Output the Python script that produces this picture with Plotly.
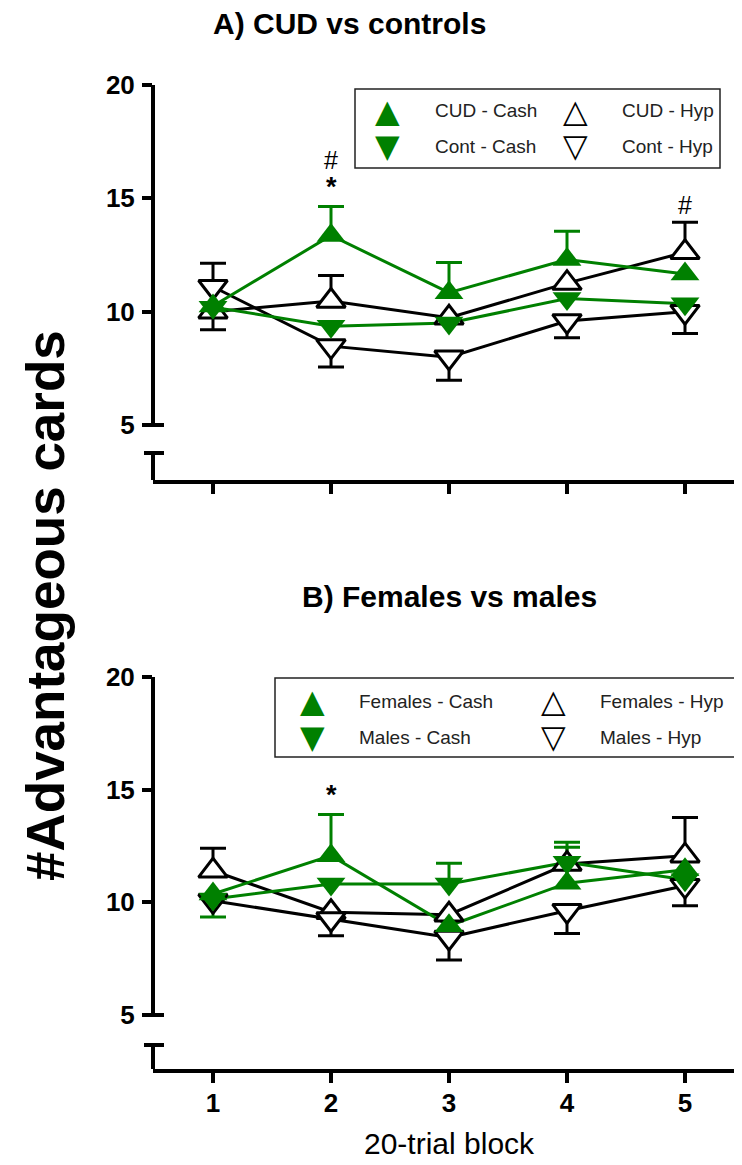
import plotly.graph_objects as go

# Reference frame is 742x1165; the page body has an 8px margin, so the
# figure is drawn 8px smaller and every layout pixel is shifted by 8.
REF_W, REF_H = 742, 1165
OFF = 8
W, H = REF_W - OFF, REF_H - OFF
FONT = "Liberation Sans, Arial, Helvetica, sans-serif"
GREEN = "#008000"
BLACK = "#000000"

# ---------------- data ----------------
BLOCKS = [1, 2, 3, 4, 5]
Y_TICKS = [5, 10, 15, 20]

# Panel A: CUD vs controls
A_CUD_CASH = [10.25, 13.36, 10.84, 12.30, 11.66]
A_CUD_CASH_UP = [None, 1.28, 1.33, 1.25, None]
A_CONT_CASH = [10.20, 9.36, 9.50, 10.58, 10.35]
A_CUD_HYP = [10.00, 10.47, 9.73, 11.26, 12.62]
A_CUD_HYP_UP = [2.14, 1.13, None, None, 1.33]
A_CONT_HYP = [11.10, 8.48, 7.99, 9.59, 10.00]
A_CONT_HYP_DOWN = [1.90, 0.92, 1.02, 0.74, 0.96]

# Panel B: Females vs males
B_F_CASH = [10.37, 12.07, 8.96, 10.85, 11.45]
B_F_CASH_UP = [None, 1.83, None, 1.82, None]
B_M_CASH = [10.15, 10.81, 10.81, 11.78, 11.00]
B_M_CASH_UP = [None, None, 0.92, 0.66, None]
B_M_CASH_DOWN = [0.80, None, None, None, None]
B_F_HYP = [11.40, 9.56, 9.45, 11.70, 12.07]
B_F_HYP_UP = [1.00, None, None, None, 1.70]
B_M_HYP = [10.07, 9.26, 8.44, 9.63, 10.74]
B_M_HYP_DOWN = [None, 0.74, 1.00, 1.01, 0.89]

A_SERIES = [
    dict(name="CUD - Cash", y=A_CUD_CASH, up=A_CUD_CASH_UP, down=None, cash=True, sym="up"),
    dict(name="Cont - Cash", y=A_CONT_CASH, up=None, down=None, cash=True, sym="down"),
    dict(name="CUD - Hyp", y=A_CUD_HYP, up=A_CUD_HYP_UP, down=None, cash=False, sym="up"),
    dict(name="Cont - Hyp", y=A_CONT_HYP, up=None, down=A_CONT_HYP_DOWN, cash=False, sym="down"),
]
B_SERIES = [
    dict(name="Females - Cash", y=B_F_CASH, up=B_F_CASH_UP, down=None, cash=True, sym="up"),
    dict(name="Males - Cash", y=B_M_CASH, up=B_M_CASH_UP, down=B_M_CASH_DOWN, cash=True, sym="down"),
    dict(name="Females - Hyp", y=B_F_HYP, up=B_F_HYP_UP, down=None, cash=False, sym="up"),
    dict(name="Males - Hyp", y=B_M_HYP, up=None, down=B_M_HYP_DOWN, cash=False, sym="down"),
]

# significance marks: (block, text, pixel offset above highest error bar)
A_SIG = [(2, "*", 19), (2, "#", 46), (5, "#", 17)]
B_SIG = [(2, "*", 19)]

# ---------------- layout geometry (reference pixels) ----------------
def px2x(px):
    return (px - OFF) / W

def py2y(py):
    return 1 - (py - OFF) / H

AXIS_X_PX = 153
X_RANGE = [1 - 60 / 118, 5 + 57 / 118]

PANELS = [
    dict(series=A_SERIES, sig=A_SIG, xa="x", ya="y", xkey="xaxis", ykey="yaxis",
         top=85, five=425, stub=453, base=480, labels=False,
         title="A) CUD vs controls", title_xy=(349, 23),
         box=(355, 89, 720, 168), rows=(111, 146), cols=((387, 433), (575, 620))),
    dict(series=B_SERIES, sig=B_SIG, xa="x2", ya="y2", xkey="xaxis2", ykey="yaxis2",
         top=677, five=1015, stub=1045, base=1069, labels=True,
         title="B) Females vs males", title_xy=(449, 596),
         box=(275, 678, 741, 757), rows=(701, 737), cols=((312, 357), (553, 598))),
]

fig = go.Figure()
annotations = []
shapes = []

def color_of(s):
    return GREEN if s["cash"] else BLACK

for p in PANELS:
    ser = p["series"]
    draw_order = [s for s in ser if not s["cash"]] + [s for s in ser if s["cash"]]
    # error bars: bar line without caps + caps at the tips
    for s in draw_order:
        c = color_of(s)
        for direction in ("up", "down"):
            errs = s[direction]
            if errs is None:
                continue
            pts = [(b, v, e) for b, v, e in zip(BLOCKS, s["y"], errs) if e is not None]
            xs = [q[0] for q in pts]
            vs = [q[1] for q in pts]
            es = [q[2] for q in pts]
            zeros = [0] * len(pts)
            tips = [v + e if direction == "up" else v - e for v, e in zip(vs, es)]
            fig.add_trace(go.Scatter(
                x=xs, y=vs, xaxis=p["xa"], yaxis=p["ya"], mode="markers",
                marker=dict(size=1, opacity=0), showlegend=False, hoverinfo="skip",
                error_y=dict(type="data", symmetric=False,
                             array=es if direction == "up" else zeros,
                             arrayminus=zeros if direction == "up" else es,
                             width=0, thickness=3, color=c)))
            fig.add_trace(go.Scatter(
                x=xs, y=tips, xaxis=p["xa"], yaxis=p["ya"], mode="markers",
                marker=dict(size=1, opacity=0), showlegend=False, hoverinfo="skip",
                error_y=dict(type="data", array=zeros, width=13, thickness=3, color=c)))
    # connecting lines
    for s in draw_order:
        fig.add_trace(go.Scatter(
            x=BLOCKS, y=s["y"], xaxis=p["xa"], yaxis=p["ya"], mode="lines",
            line=dict(color=color_of(s), width=3), showlegend=False, hoverinfo="skip"))
    # markers
    for s in draw_order:
        c = color_of(s)
        fig.add_trace(go.Scatter(
            x=BLOCKS, y=s["y"], xaxis=p["xa"], yaxis=p["ya"], mode="markers", name=s["name"],
            marker=dict(symbol="triangle-" + s["sym"], size=25,
                        color=c if s["cash"] else "white",
                        line=dict(color=c, width=0 if s["cash"] else 3)),
            showlegend=False))

    # significance marks
    for blk, txt, off in p["sig"]:
        i = BLOCKS.index(blk)
        top = max(s["y"][i] + (s["up"][i] if s["up"] and s["up"][i] is not None else 0)
                  for s in ser)
        label = "<b>*</b>" if txt == "*" else txt
        annotations.append(dict(x=blk, y=top, xref=p["xa"], yref=p["ya"], text=label,
                                showarrow=False, yanchor="middle", yshift=off,
                                font=dict(family=FONT, size=27 if txt == "*" else 25,
                                          color=BLACK)))

    # y scale geometry: 20 at 'top' px, 5 at 'five' px, domain down to the x axis
    ppu = (p["five"] - p["top"]) / 15.0
    ymin = 5 - (p["base"] - p["five"]) / ppu
    ystub = 5 - (p["stub"] - p["five"]) / ppu

    axis_common = dict(ticks="outside", ticklen=10, tickwidth=4, tickcolor=BLACK,
                       showgrid=False, zeroline=False, fixedrange=True)
    fig.layout[p["xkey"]] = dict(
        domain=[px2x(AXIS_X_PX), 1], range=X_RANGE, anchor=p["ya"], tickmode="array",
        tickvals=BLOCKS, ticktext=[str(b) for b in BLOCKS], showticklabels=p["labels"],
        tickfont=dict(family=FONT, size=26, color=BLACK, weight="bold"),
        ticklabelstandoff=-2, showline=True, linewidth=4, linecolor=BLACK, **axis_common)
    fig.layout[p["ykey"]] = dict(
        domain=[py2y(p["base"]), py2y(p["top"])], range=[ymin, 20], anchor=p["xa"],
        tickmode="array", tickvals=Y_TICKS, ticktext=[str(t) for t in Y_TICKS],
        tickfont=dict(family=FONT, size=26, color=BLACK, weight="bold"),
        ticklabelstandoff=2, showline=False, **axis_common)

    # broken y-axis line: main segment 5..20, short stub above the x axis
    ax_x = px2x(AXIS_X_PX)
    seg = dict(type="line", xref="paper", yref=p["ya"], line=dict(color=BLACK, width=4))
    shapes.append(dict(seg, x0=ax_x, x1=ax_x, y0=5, y1=20))
    shapes.append(dict(seg, x0=ax_x, x1=ax_x, y0=ymin, y1=ystub))
    for yv in (5, ystub):
        shapes.append(dict(type="line", xref="paper", yref=p["ya"], xsizemode="pixel",
                           xanchor=ax_x, x0=-9, x1=11, y0=yv, y1=yv,
                           line=dict(color=BLACK, width=4)))

    # panel title
    tx, ty = p["title_xy"]
    annotations.append(dict(x=px2x(tx), y=py2y(ty), xref="paper", yref="paper",
                            text="<b>" + p["title"] + "</b>", showarrow=False,
                            xanchor="center", yanchor="middle",
                            font=dict(family=FONT, size=30, color=BLACK)))

    # legend box with two columns
    bx0, by0, bx1, by1 = p["box"]
    shapes.append(dict(type="rect", xref="paper", yref="paper",
                       x0=px2x(bx0), x1=px2x(bx1), y0=py2y(by1), y1=py2y(by0),
                       line=dict(color="#222222", width=1.5), fillcolor="white", layer="below"))
    order = [[ser[0], ser[1]], [ser[2], ser[3]]]
    for (mx, txx), col in zip(p["cols"], order):
        for ry, s in zip(p["rows"], col):
            glyph = {("up", True): "▲", ("down", True): "▼",
                     ("up", False): "△", ("down", False): "▽"}[(s["sym"], s["cash"])]
            annotations.append(dict(x=px2x(mx), y=py2y(ry), xref="paper", yref="paper",
                                    text=glyph, showarrow=False, xanchor="center",
                                    yanchor="middle",
                                    font=dict(family="DejaVu Sans", size=32,
                                              color=color_of(s), weight="bold")))
            annotations.append(dict(x=px2x(txx), y=py2y(ry), xref="paper", yref="paper",
                                    text=s["name"], showarrow=False, xanchor="left",
                                    yanchor="middle",
                                    font=dict(family=FONT, size=19, color="#222222")))

# shared axis titles
annotations.append(dict(x=px2x(449), y=py2y(1143), xref="paper", yref="paper",
                        text="20-trial block", showarrow=False, xanchor="center",
                        yanchor="middle", font=dict(family=FONT, size=30, color=BLACK)))
annotations.append(dict(x=px2x(45), y=py2y(606), xref="paper", yref="paper",
                        text="<b>#Advantageous cards</b>", showarrow=False, textangle=-90,
                        xanchor="center", yanchor="middle",
                        font=dict(family=FONT, size=53, color=BLACK)))

fig.update_layout(
    width=W, height=H, margin=dict(l=0, r=0, t=0, b=0, autoexpand=False),
    paper_bgcolor="white", plot_bgcolor="rgba(0,0,0,0)", showlegend=False,
    annotations=annotations, shapes=shapes,
    font=dict(family=FONT, color=BLACK),
)

fig.write_html("out.html")
